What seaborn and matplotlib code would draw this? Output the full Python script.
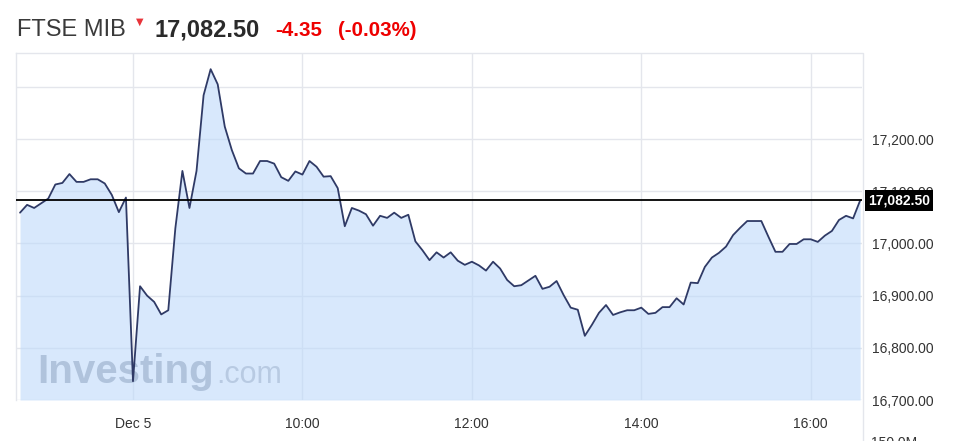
import numpy as np
import pandas as pd
import matplotlib
matplotlib.use("Agg")
import matplotlib.pyplot as plt
import matplotlib.transforms as mtransforms
from matplotlib.lines import Line2D
import seaborn as sns

sns.set_theme(style="white")
plt.rcParams['font.family'] = ['Liberation Sans', 'DejaVu Sans']

# %%
# Data: FTSE MIB, 5-minute closes
# last 16 bars of the previous session, then the Dec 5 session
prev_times = pd.date_range('2016-12-02 15:10', periods=16, freq='5min')
day_times = pd.date_range('2016-12-05 08:00', periods=104, freq='5min')

prices = [
    17059, 17074, 17068, 17077, 17086, 17113, 17116, 17133, 17118, 17118,
    17123, 17123, 17115, 17093, 17060, 17088, 16736, 16918, 16900, 16888,
    16864, 16872, 17029, 17139, 17068, 17139, 17284, 17334, 17305, 17224,
    17179, 17144, 17134, 17134, 17158, 17158, 17153, 17127, 17120, 17138,
    17132, 17158, 17147, 17128, 17129, 17106, 17033, 17068, 17063, 17056,
    17034, 17053, 17049, 17059, 17049, 17055, 17004, 16987, 16968, 16983,
    16973, 16983, 16967, 16959, 16965, 16958, 16948, 16965, 16952, 16930,
    16918, 16920, 16929, 16938, 16913, 16917, 16928, 16901, 16877, 16873,
    16823, 16844, 16867, 16882, 16863, 16868, 16872, 16872, 16877, 16865,
    16867, 16878, 16878, 16895, 16883, 16925, 16924, 16955, 16973, 16982,
    16994, 17016, 17030, 17043, 17043, 17043, 17013, 16984, 16984, 16999,
    16999, 17008, 17008, 17003, 17015, 17024, 17045, 17053, 17048, 17082.5,
]

last_price = 17082.50
change = -4.35
change_pct = -0.03

y_ticks = [16700, 16800, 16900, 17000, 17100, 17200, 17300]
x_tick_times = ['2016-12-05 08:00', '2016-12-05 10:00', '2016-12-05 12:00',
                '2016-12-05 14:00', '2016-12-05 16:00']
x_tick_labels = ['Dec 5', '10:00', '12:00', '14:00', '16:00']

# %%
# Frame (x axis is ordinal: one slot per bar, like the Investing chart)
times = prev_times.append(day_times)
df = pd.DataFrame({'pos': np.arange(len(prices)), 'time': times, 'price': prices})
tick_pos = [int(df.index[df['time'] == pd.Timestamp(t)][0]) for t in x_tick_times]

# %%
# Plot
W, H = 961, 441
fig = plt.figure(figsize=(W / 100, H / 100), dpi=100)
ax = fig.add_axes([16 / W, 1 - 400 / H, 846 / W, 347 / H])

grid_c = '#e4e6ec'
ax.fill_between(df['pos'], df['price'], 16700, color='#bedafa', alpha=0.6, lw=0, zorder=1)
sns.lineplot(data=df, x='pos', y='price', color='#2f3a66', lw=1.3, ax=ax, zorder=3)

ax.axhline(last_price, color='black', lw=1.3, zorder=4)

ax.set_xlim(-0.57, 119.26)
ax.set_ylim(16700, 17365)

ax.set_xticks(tick_pos)
ax.set_xticklabels(x_tick_labels)
ax.set_yticks(y_ticks)
ax.set_yticklabels([f"{v:,.2f}" if v < 17300 else '' for v in y_ticks])
ax.yaxis.tick_right()
ax.tick_params(axis='y', length=0, pad=7, labelsize=10, labelcolor='#333333')
ax.tick_params(axis='x', length=0, pad=12, labelsize=10, labelcolor='#333333')
ax.set_xlabel('')
ax.set_ylabel('')
ax.grid(True, color=grid_c, lw=1, zorder=0)
ax.set_axisbelow(True)

for side in ['left', 'top']:
    ax.spines[side].set_color(grid_c)
    ax.spines[side].set_linewidth(1)
ax.spines['bottom'].set_visible(False)
ax.spines['right'].set_visible(False)
# right border runs down past the plot area
fig.add_artist(Line2D([863 / W, 863 / W], [0, 1 - 53 / H], transform=fig.transFigure,
                      color=grid_c, lw=1))

# last price box on the right axis
trans = mtransforms.blended_transform_factory(ax.transAxes, ax.transData)
ax.text(1.0 + 6 / 846, last_price, f"{last_price:,.2f}", transform=trans,
        ha='left', va='center', fontsize=10, fontweight='bold', color='white',
        bbox=dict(facecolor='black', edgecolor='none', pad=2.5), zorder=10, clip_on=False)

# watermark
ax.text(37 / W, 1 - 383 / H, "Investing", transform=fig.transFigure, fontsize=29,
        fontweight='bold', color='#6f87a8', alpha=0.38, va='baseline', zorder=2)
ax.text(216 / W, 1 - 383 / H, ".com", transform=fig.transFigure, fontsize=22,
        color='#6f87a8', alpha=0.3, va='baseline', zorder=2)

# header
fig.text(17 / W, 1 - 36 / H, "FTSE MIB", fontsize=17, color='#3a3a3a', va='baseline')
fig.text(139.5 / W, 1 - 22 / H, "\u25BC", fontsize=7, color='#e8343a',
         ha='center', va='center', family=['DejaVu Sans'])
fig.text(154 / W, 1 - 36 / H, f"{last_price:,.2f}", fontsize=17, fontweight='bold',
         color='#2a2a2a', va='baseline')
fig.text(275 / W, 1 - 36 / H, f"{change:.2f}", fontsize=14.8, fontweight='bold',
         color='#ee0000', va='baseline')
fig.text(338 / W, 1 - 36 / H, f"({change_pct:.2f}%)", fontsize=14.8, fontweight='bold',
         color='#ee0000', va='baseline')

# volume axis label cut off at the bottom edge
fig.text(871 / W, 1 - 436 / H, "150.0M", fontsize=10, color='#333333', va='top')

fig.savefig('out.png', dpi=100)
